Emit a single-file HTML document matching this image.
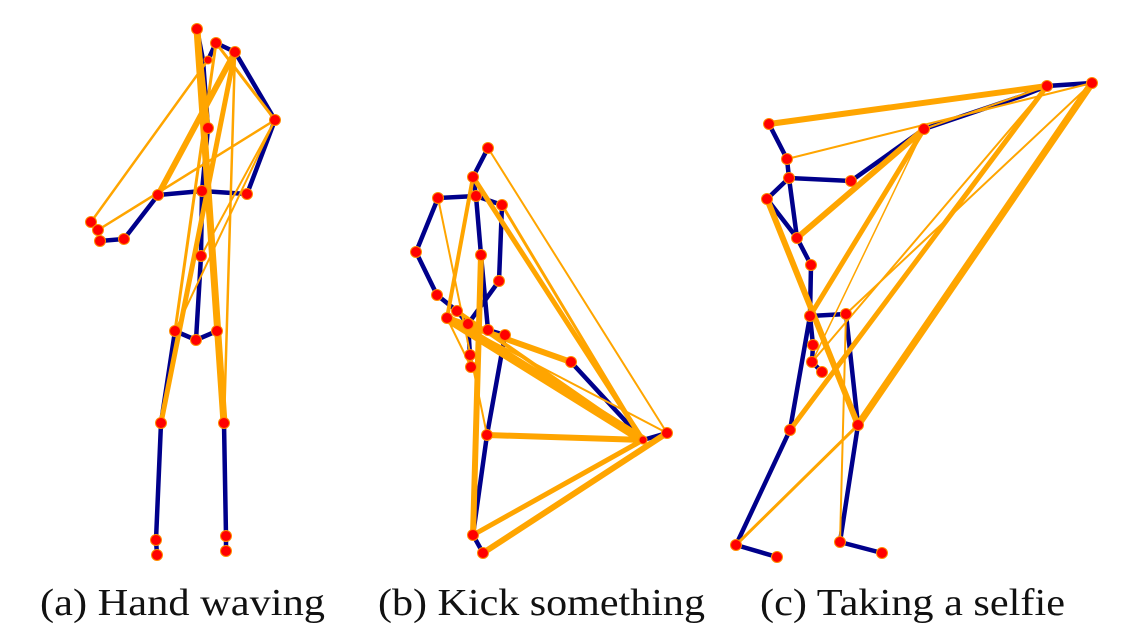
<!DOCTYPE html>
<html><head><style>
body{margin:0;background:#fff;width:1145px;height:638px;overflow:hidden}
svg{position:absolute;left:0;top:0}
text{font-family:"Liberation Serif",serif;font-size:38px;fill:#111}
</style></head><body>
<svg width="1145" height="638" viewBox="0 0 1145 638">
<g stroke="#00008B" stroke-width="4.5" stroke-linecap="round" fill="none">
<polyline points="216,43 208,60"/>
<polyline points="197,29 203,60 208,128 202,191 201,256 196,340"/>
<polyline points="216,43 235,52 275,120 247,194 202,191 158,195 124,239 100,241 98,230"/>
<polyline points="175,331 196,340 217,331"/>
<polyline points="175,331 161,423 156,540 157,555"/>
<polyline points="217,331 224,423 226,536 226,551"/>
<polyline points="488,148 473,177 476,196 438,198 416,252 437,295 457,311 468,324 470,355 471,367"/>
<polyline points="476,196 502,205 499,281 468,324"/>
<polyline points="476,196 481,255 488,330 505,335 487,435 473,535 483,553"/>
<polyline points="571,362 643,440 667,433"/>
<polyline points="769,124 787,159 789,178 851,181 924,129 1022,96 1047,86 1092,83"/>
<polyline points="789,178 767,199 797,238 811,265"/>
<polyline points="789,178 797,238"/>
<polyline points="811,265 810,316 846,314 858,425 840,542 882,553"/>
<polyline points="810,316 813,345 812,362 822,372"/>
<polyline points="810,316 790,430 736,545 777,557"/>
</g>
<g stroke="#FFA500" stroke-linecap="round" fill="none">
<line x1="197" y1="29" x2="224" y2="423" stroke-width="7"/>
<line x1="235" y1="52" x2="161" y2="423" stroke-width="5"/>
<line x1="235" y1="52" x2="158" y2="195" stroke-width="6"/>
<line x1="216" y1="43" x2="175" y2="331" stroke-width="3"/>
<line x1="208" y1="60" x2="91" y2="222" stroke-width="2.5"/>
<line x1="275" y1="120" x2="98" y2="230" stroke-width="2.5"/>
<line x1="275" y1="120" x2="201" y2="256" stroke-width="2"/>
<line x1="275" y1="120" x2="175" y2="331" stroke-width="2"/>
<line x1="235" y1="52" x2="224" y2="423" stroke-width="2.5"/>
<line x1="216" y1="43" x2="275" y2="120" stroke-width="3"/>
<line x1="197" y1="29" x2="208" y2="128" stroke-width="5"/>
<line x1="488" y1="148" x2="667" y2="433" stroke-width="2"/>
<line x1="473" y1="177" x2="643" y2="440" stroke-width="5"/>
<line x1="473" y1="177" x2="447" y2="318" stroke-width="4"/>
<line x1="502" y1="205" x2="643" y2="440" stroke-width="3"/>
<line x1="438" y1="198" x2="487" y2="435" stroke-width="2"/>
<line x1="481" y1="255" x2="473" y2="535" stroke-width="6"/>
<line x1="447" y1="318" x2="571" y2="362" stroke-width="6"/>
<line x1="447" y1="318" x2="643" y2="440" stroke-width="9"/>
<line x1="447" y1="318" x2="667" y2="433" stroke-width="2"/>
<line x1="457" y1="311" x2="643" y2="440" stroke-width="4"/>
<line x1="447" y1="318" x2="471" y2="367" stroke-width="2"/>
<line x1="487" y1="435" x2="643" y2="440" stroke-width="6"/>
<line x1="473" y1="535" x2="643" y2="440" stroke-width="5"/>
<line x1="483" y1="553" x2="667" y2="433" stroke-width="6"/>
<line x1="769" y1="124" x2="1047" y2="86" stroke-width="6"/>
<line x1="787" y1="159" x2="1092" y2="83" stroke-width="2"/>
<line x1="924" y1="129" x2="797" y2="238" stroke-width="6"/>
<line x1="924" y1="129" x2="810" y2="316" stroke-width="5"/>
<line x1="924" y1="129" x2="812" y2="362" stroke-width="1.5"/>
<line x1="767" y1="199" x2="858" y2="425" stroke-width="6"/>
<line x1="1047" y1="86" x2="790" y2="430" stroke-width="5"/>
<line x1="1092" y1="83" x2="858" y2="425" stroke-width="7"/>
<line x1="1092" y1="83" x2="846" y2="314" stroke-width="2"/>
<line x1="1047" y1="86" x2="812" y2="362" stroke-width="2"/>
<line x1="1047" y1="86" x2="924" y2="129" stroke-width="2"/>
<line x1="846" y1="314" x2="840" y2="542" stroke-width="2"/>
<line x1="858" y1="425" x2="736" y2="545" stroke-width="3"/>
</g>
<g fill="#FF0000" stroke="#FF8C00" stroke-width="1">
<circle cx="197" cy="29" r="5.5"/><circle cx="216" cy="43" r="5.5"/><circle cx="235" cy="52" r="5.5"/><circle cx="208" cy="60" r="4"/>
<circle cx="275" cy="120" r="5.5"/><circle cx="208" cy="128" r="5.5"/><circle cx="202" cy="191" r="5.5"/><circle cx="158" cy="195" r="5.5"/>
<circle cx="247" cy="194" r="5.5"/><circle cx="91" cy="222" r="5.5"/><circle cx="98" cy="230" r="5.5"/><circle cx="100" cy="241" r="5.5"/>
<circle cx="124" cy="239" r="5.5"/><circle cx="201" cy="256" r="5.5"/><circle cx="175" cy="331" r="5.5"/><circle cx="196" cy="340" r="5.5"/>
<circle cx="217" cy="331" r="5.5"/><circle cx="161" cy="423" r="5.5"/><circle cx="224" cy="423" r="5.5"/><circle cx="156" cy="540" r="5.5"/>
<circle cx="157" cy="555" r="5.5"/><circle cx="226" cy="536" r="5.5"/><circle cx="226" cy="551" r="5.5"/>
<circle cx="488" cy="148" r="5.5"/><circle cx="473" cy="177" r="5.5"/><circle cx="438" cy="198" r="5.5"/><circle cx="476" cy="196" r="5.5"/>
<circle cx="502" cy="205" r="5.5"/><circle cx="416" cy="252" r="5.5"/><circle cx="481" cy="255" r="5.5"/><circle cx="499" cy="281" r="5.5"/>
<circle cx="437" cy="295" r="5.5"/><circle cx="457" cy="311" r="5.5"/><circle cx="447" cy="318" r="5.5"/><circle cx="468" cy="324" r="5.5"/>
<circle cx="488" cy="330" r="5.5"/><circle cx="505" cy="335" r="5.5"/><circle cx="571" cy="362" r="5.5"/><circle cx="470" cy="355" r="5.5"/>
<circle cx="471" cy="367" r="5.5"/><circle cx="487" cy="435" r="5.5"/><circle cx="643" cy="440" r="4"/><circle cx="667" cy="433" r="5.5"/>
<circle cx="473" cy="535" r="5.5"/><circle cx="483" cy="553" r="5.5"/>
<circle cx="769" cy="124" r="5.5"/><circle cx="787" cy="159" r="5.5"/><circle cx="789" cy="178" r="5.5"/><circle cx="851" cy="181" r="5.5"/>
<circle cx="924" cy="129" r="5.5"/><circle cx="767" cy="199" r="5.5"/><circle cx="797" cy="238" r="5.5"/><circle cx="811" cy="265" r="5.5"/>
<circle cx="810" cy="316" r="5.5"/><circle cx="846" cy="314" r="5.5"/><circle cx="813" cy="345" r="5.5"/><circle cx="812" cy="362" r="5.5"/>
<circle cx="822" cy="372" r="5.5"/><circle cx="790" cy="430" r="5.5"/><circle cx="858" cy="425" r="5.5"/><circle cx="736" cy="545" r="5.5"/>
<circle cx="777" cy="557" r="5.5"/><circle cx="840" cy="542" r="5.5"/><circle cx="882" cy="553" r="5.5"/><circle cx="1047" cy="86" r="5.5"/>
<circle cx="1092" cy="83" r="5.5"/>
</g>
<text x="40" y="615" textLength="285" lengthAdjust="spacingAndGlyphs">(a) Hand waving</text>
<text x="378" y="615" textLength="327" lengthAdjust="spacingAndGlyphs">(b) Kick something</text>
<text x="760" y="615" textLength="305" lengthAdjust="spacingAndGlyphs">(c) Taking a selfie</text>
</svg>
</body></html>
